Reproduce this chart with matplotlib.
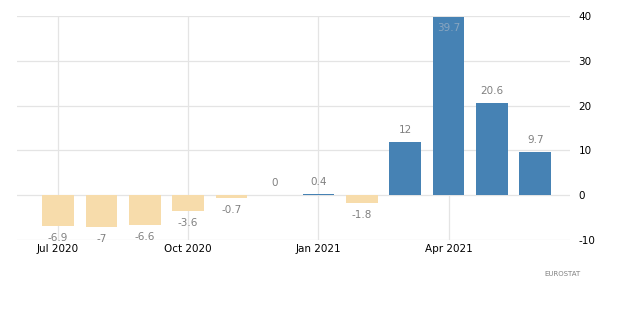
import matplotlib.pyplot as plt
import numpy as np

plt.rcParams['axes.unicode_minus'] = False

# 数据
months = ['Jul 2020', 'Aug 2020', 'Sep 2020', 'Oct 2020', 'Nov 2020', 'Dec 2020',
          'Jan 2021', 'Feb 2021', 'Mar 2021', 'Apr 2021', 'May 2021', 'Jun 2021']
values = [-6.9, -7, -6.6, -3.6, -0.7, 0, 0.4, -1.8, 12, 39.7, 20.6, 9.7]
value_labels = ['-6.9', '-7', '-6.6', '-3.6', '-0.7', '0', '0.4', '-1.8', '12', '39.7', '20.6', '9.7']
tick_months = ['Jul 2020', 'Oct 2020', 'Jan 2021', 'Apr 2021']
y_ticks = [-10, 0, 10, 20, 30, 40]

blue = '#4682b4'
tan = '#f7dcab'
grid_c = '#e4e4e4'

fig = plt.figure(figsize=(6.2, 3.21), dpi=100)
ax = fig.add_axes([0.0274, 0.252, 0.892, 0.698])

x = np.arange(len(months))
colors = [blue if v >= 0 else tan for v in values]
ax.bar(x, values, width=0.73, color=colors, zorder=2)

# 数值标签
for xi, v, lab in zip(x, values, value_labels):
    if v >= 38:
        ax.annotate(lab, (xi, v), xytext=(0, -4), textcoords='offset points',
                    ha='center', va='top', fontsize=7.5, color='#8aa6c0')
    elif v >= 0:
        ax.annotate(lab, (xi, v), xytext=(0, 5), textcoords='offset points',
                    ha='center', va='bottom', fontsize=7.5, color='#808080')
    else:
        ax.annotate(lab, (xi, v), xytext=(0, -5), textcoords='offset points',
                    ha='center', va='top', fontsize=7.5, color='#808080')

ax.set_xlim(-0.945, 11.8)
ax.set_ylim(-10, 40)
ax.set_yticks(y_ticks)
ax.yaxis.tick_right()
ax.tick_params(axis='y', length=0, pad=6, labelsize=7.5, labelcolor='black')
ax.set_xticks([months.index(m) for m in tick_months])
ax.set_xticklabels(tick_months)
ax.tick_params(axis='x', length=0, pad=3, labelsize=7.5, labelcolor='black')

ax.grid(True, color=grid_c, linewidth=0.9, zorder=0)
for s in ax.spines.values():
    s.set_visible(False)

fig.text(0.908, 0.14, 'EUROSTAT', fontsize=5, color='#808080', ha='center')

fig.savefig('out.png', dpi=100)
